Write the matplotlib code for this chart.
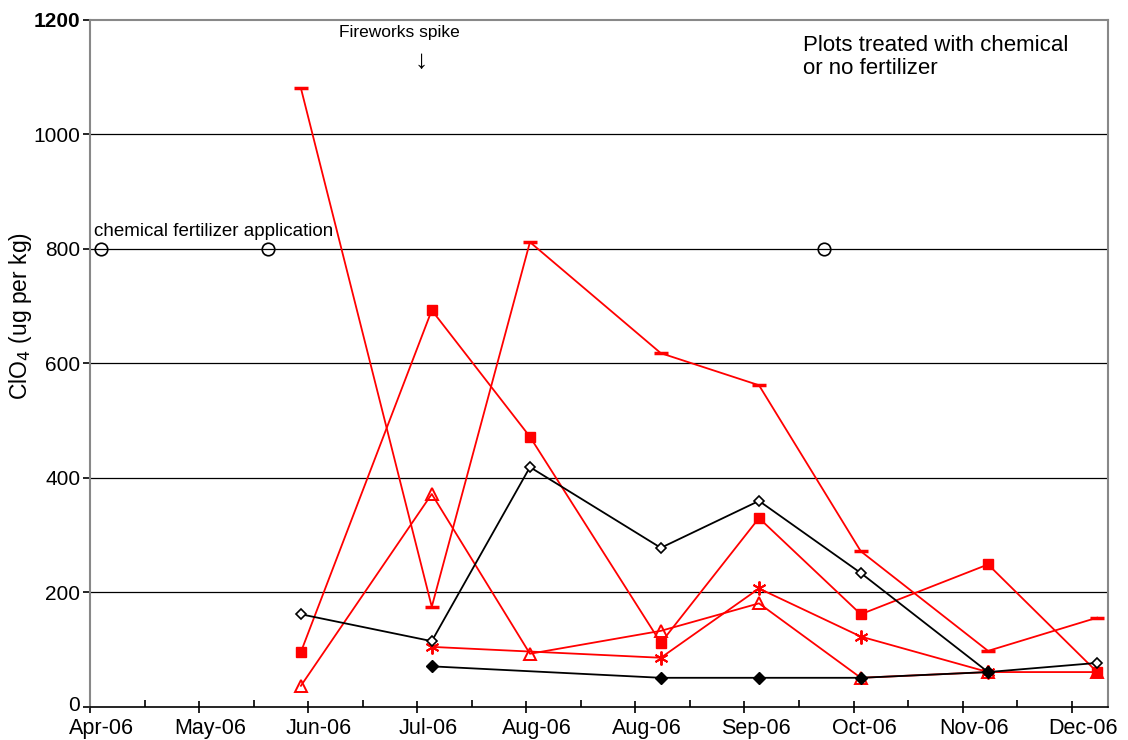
import matplotlib
matplotlib.use("Agg")
import matplotlib.pyplot as plt
import matplotlib.transforms as mtransforms
import numpy as np

plt.rcParams["font.family"] = ["Liberation Sans", "DejaVu Sans"]

# sampling dates
dates = np.array(["2006-05-31", "2006-07-06", "2006-08-02", "2006-09-07",
                  "2006-10-04", "2006-11-01", "2006-12-06", "2007-01-05"],
                 dtype="datetime64[D]")

red_dash = [1081, 175, 812, 618, 562, 272, 98, 156]
red_square = [96, 693, 472, 112, 330, 162, 249, 61]
red_triangle = [37, 372, 93, 133, 181, 51, 61, 61]
red_star_dates = dates[[1, 3, 4, 5, 6]]
red_star = [105, 86, 207, 123, 61]
black_open = [162, 115, 419, 278, 360, 234, 61, 77]
black_filled_dates = dates[[1, 3, 4, 5, 6]]
black_filled = [71, 51, 51, 51, 61]

fert_dates = np.array(["2006-04-06", "2006-05-22", "2006-10-22"], dtype="datetime64[D]")
fert_level = [800, 800, 800]

tick_dates = np.datetime64("2006-04-03") + np.arange(10) * 30
tick_labels = ["Apr-06", "May-06", "Jun-06", "Jul-06", "Aug-06",
               "Aug-06", "Sep-06", "Oct-06", "Nov-06", "Dec-06"]
y_ticks = [0, 200, 400, 600, 800, 1000, 1200]

fig = plt.figure(figsize=(11.28, 7.4), dpi=100)
ax = fig.add_axes([0.0798, 0.0446, 0.9025, 0.9284])

for y in y_ticks[1:-1]:
    ax.axhline(y, color="black", lw=0.9, zorder=1)

lw = 1.3
ax.plot(dates, red_dash, color="red", lw=lw, marker="_", ms=10, mew=2.5, zorder=3)
ax.plot(dates, red_square, color="red", lw=lw, marker="s", ms=7, zorder=3)
ax.plot(dates, red_triangle, color="red", lw=lw, marker="^", ms=8,
        mfc="none", mew=1.4, zorder=3)
ax.plot(red_star_dates, red_star, color="red", lw=lw, marker=(6, 2, 0), ms=10,
        mew=1.4, zorder=3)
ax.plot(dates, black_open, color="black", lw=lw, marker="D", ms=5,
        mfc="white", mew=1.2, zorder=4)
ax.plot(black_filled_dates, black_filled, color="black", lw=lw, marker="D", ms=6,
        zorder=4)
ax.plot(fert_dates, fert_level, ls="none", marker="o", ms=9, mfc="none",
        mec="black", mew=1.2, zorder=4)

ax.set_xlim(np.datetime64("2006-04-03"), np.datetime64("2007-01-08"))
ax.set_ylim(0, 1200)
ax.set_xticks(tick_dates)
ax.set_xticklabels(tick_labels, fontsize=15.5)
ax.set_xticks(tick_dates[:-1] + 15, minor=True)
ax.tick_params(axis="x", which="major", direction="inout", length=8, width=1.2, pad=4)
ax.tick_params(axis="x", which="minor", direction="in", length=5, width=1.2)

ax.set_yticks(y_ticks)
ax.set_yticklabels([str(v) for v in y_ticks], fontsize=15)
ax.get_yticklabels()[-1].set_fontweight("bold")
ax.tick_params(axis="y", direction="out", length=5, width=1.2, pad=2)

# shift x tick labels slightly to the right, as in the original
offset = mtransforms.ScaledTranslation(11 / 100, 0, fig.dpi_scale_trans)
for lab in ax.get_xticklabels():
    lab.set_transform(lab.get_transform() + offset)
# lift the "0" a touch so it clears the first date label
lift = mtransforms.ScaledTranslation(0, 3 / 100, fig.dpi_scale_trans)
zero_lab = ax.get_yticklabels()[0]
zero_lab.set_transform(zero_lab.get_transform() + lift)

for side in ["left", "top", "right"]:
    ax.spines[side].set_color("#888888")
    ax.spines[side].set_linewidth(1.5)
ax.spines["bottom"].set_color("black")
ax.spines["bottom"].set_linewidth(1.2)

ax.set_ylabel("ClO$_4$ (ug per kg)", fontsize=16.5)
ax.yaxis.set_label_coords(-0.055, 0.569)

ax.text(np.datetime64("2006-04-04"), 822, "chemical fertilizer application",
        fontsize=13.5, ha="left", va="baseline")
ax.text(np.datetime64("2006-06-27"), 1192, "Fireworks spike", fontsize=12.5,
        ha="center", va="top")
ax.text(np.datetime64("2006-07-03"), 1128, "\u2193", fontsize=19,
        ha="center", va="center")
ax.text(np.datetime64("2006-10-16"), 1174, "Plots treated with chemical\nor no fertilizer",
        fontsize=16, ha="left", va="top", linespacing=1.12)

fig.savefig("out.png", dpi=100)
